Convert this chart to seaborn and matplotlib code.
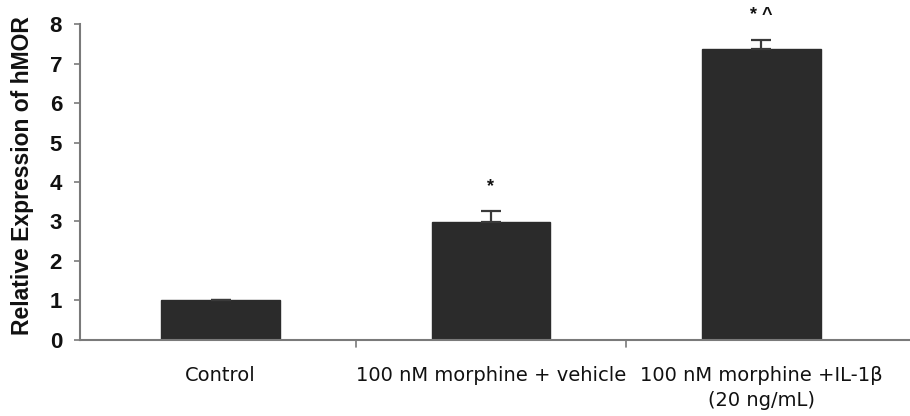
import matplotlib
matplotlib.use("Agg")
import matplotlib.pyplot as plt
import seaborn as sns
import pandas as pd

categories = ["Control", "100 nM morphine + vehicle", "100 nM morphine +IL-1β\n(20 ng/mL)"]
values = [1.0, 2.98, 7.36]
errors = [0.02, 0.28, 0.24]
marks = ["", "*", "* ^"]
yticks = [0, 1, 2, 3, 4, 5, 6, 7, 8]
ylabel = "Relative Expression of hMOR"

sns.set_theme(style="white")
plt.rcParams["font.family"] = ["Liberation Sans", "DejaVu Sans"]

fig = plt.figure(figsize=(9.1, 4.16), dpi=100)
ax = fig.add_axes([0.088, 0.1827, 0.912, 0.7596])

df = pd.DataFrame({"cat": categories, "val": values})
sns.barplot(data=df, x="cat", y="val", color="#2b2b2b", saturation=1,
            width=0.44, errorbar=None, ax=ax, edgecolor="#2b2b2b")

xs = list(range(len(categories)))
ax.errorbar(xs, values, yerr=[[0] * len(errors), errors], fmt="none",
            ecolor="#3a3a3a", elinewidth=1.6, capsize=7, capthick=1.6, zorder=3)

for x, v, e, m in zip(xs, values, errors, marks):
    if m:
        ax.text(x, v + e + 0.62, m, ha="center", va="center", fontsize=13,
                fontweight="bold", color="#111111", clip_on=False)

ax.set_xlim(-0.52, 2.55)
ax.set_ylim(0, 8)
ax.set_yticks(yticks)
ax.set_yticklabels([str(t) for t in yticks], fontsize=16, fontweight="bold", color="#111111")
ax.set_ylabel(ylabel, fontsize=16.5, fontweight="bold", color="#111111")
ax.yaxis.set_label_coords(-0.056, 0.52)
ax.set_xlabel("")
ax.set_xticks(xs)
ax.set_xticklabels(categories, fontsize=14, color="#111111",
                   family=["DejaVu Sans"], linespacing=1.35)
ax.tick_params(axis="x", length=0, pad=19)
ax.tick_params(axis="y", length=4, width=1.2, color="#7a7a7a", direction="out", left=True, pad=9)

# category boundary ticks on x axis
for b in [0.5, 1.5]:
    ax.plot([b, b], [0, -0.18], color="#7a7a7a", lw=1.2, clip_on=False)

for s in ["top", "right"]:
    ax.spines[s].set_visible(False)
for s in ["left", "bottom"]:
    ax.spines[s].set_color("#7a7a7a")
    ax.spines[s].set_linewidth(1.5)

fig.savefig("out.png", dpi=100)
